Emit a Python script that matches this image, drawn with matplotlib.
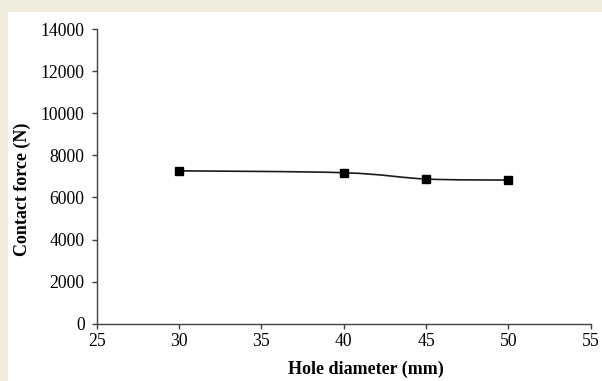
import numpy as np
import matplotlib.pyplot as plt
from matplotlib.path import Path
from matplotlib.patches import PathPatch, Rectangle

# Values
hole_diameter = [30, 40, 45, 50]
contact_force = [7270, 7180, 6880, 6830]
x_ticks = [25, 30, 35, 40, 45, 50, 55]
y_ticks = [0, 2000, 4000, 6000, 8000, 10000, 12000, 14000]

plt.rcParams['font.family'] = ['Liberation Serif', 'DejaVu Serif']

fig = plt.figure(figsize=(6.02, 3.81), dpi=100)
fig.patch.set_facecolor('white')

# beige frame strips along top and left edges
band = '#f0eddc'
fig.patches.append(Rectangle((0, 1 - 12 / 381), 1, 12 / 381, transform=fig.transFigure,
                             facecolor=band, edgecolor='none', zorder=0))
fig.patches.append(Rectangle((0, 0), 8 / 602, 1, transform=fig.transFigure,
                             facecolor=band, edgecolor='none', zorder=0))

ax = fig.add_axes([0.1606, 0.1509, 0.8206, 0.7717])

# smooth line (Excel-style bezier through the points)
x = np.array(hole_diameter, dtype=float)
y = np.array(contact_force, dtype=float)
verts = [(x[0], y[0])]
codes = [Path.MOVETO]
t = 1 / 6
for i in range(len(x) - 1):
    p0 = i - 1 if i > 0 else i
    p3 = i + 2 if i + 2 < len(x) else i + 1
    c1 = (x[i] + (x[i + 1] - x[p0]) * t, y[i] + (y[i + 1] - y[p0]) * t)
    c2 = (x[i + 1] - (x[p3] - x[i]) * t, y[i + 1] - (y[p3] - y[i]) * t)
    verts += [c1, c2, (x[i + 1], y[i + 1])]
    codes += [Path.CURVE4] * 3
ax.add_patch(PathPatch(Path(verts, codes), facecolor='none', edgecolor='#1a1a1a', lw=1.2))
ax.plot(hole_diameter, contact_force, linestyle='none', marker='s', markersize=5.3,
        color='black')

ax.set_xlim(25, 55)
ax.set_ylim(0, 14000)
ax.set_xticks(x_ticks)
ax.set_yticks(y_ticks)
for s in ['top', 'right']:
    ax.spines[s].set_visible(False)
for s in ['left', 'bottom']:
    ax.spines[s].set_color('#404040')
    ax.spines[s].set_linewidth(1.0)
ax.tick_params(direction='out', length=3.6, width=1.0, color='#404040',
               labelsize=12.7, labelcolor='black')
ax.tick_params(axis='x', pad=3)
ax.tick_params(axis='y', pad=5)

ax.set_xlabel('Hole diameter (mm)', fontsize=13, fontweight='bold', va='center')
ax.set_ylabel('Contact force (N)', fontsize=13, fontweight='bold', va='center')
ax.xaxis.set_label_coords(0.544, -0.155)
ax.yaxis.set_label_coords(-0.151, 0.457)

fig.savefig('out.png', dpi=100, facecolor=fig.get_facecolor())
